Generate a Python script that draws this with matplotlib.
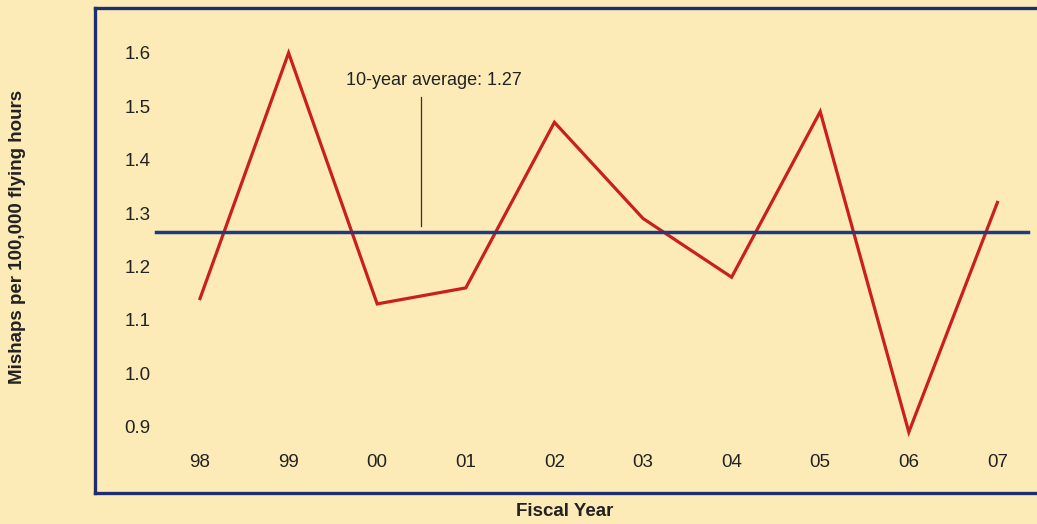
import matplotlib
matplotlib.use("Agg")
import matplotlib.pyplot as plt

years = ["98", "99", "00", "01", "02", "03", "04", "05", "06", "07"]
rates = [1.14, 1.60, 1.13, 1.16, 1.47, 1.29, 1.18, 1.49, 0.89, 1.32]
avg_rate = 1.265
avg_label = "10-year average: 1.27"
yticks = [0.9, 1.0, 1.1, 1.2, 1.3, 1.4, 1.5, 1.6]

BG = "#fcebb6"
RED = "#c9201f"
BLUE = "#1d3a82"
FRAME = "#1b2f70"

plt.rcParams.update({
    "font.family": ["Liberation Sans", "DejaVu Sans"],
})

fig = plt.figure(figsize=(10.37, 5.24), dpi=100, facecolor=BG)
# frame runs off the right edge of the picture
ax = fig.add_axes([95 / 1037, 1 - 493 / 524, 950 / 1037, 485 / 524])
ax.set_facecolor(BG)

x = list(range(len(years)))
ax.plot(x, rates, color=RED, linewidth=2.3, solid_joinstyle="miter")
ax.plot([-0.5, 9.34], [avg_rate, avg_rate], color=BLUE, linewidth=2.5)

# annotation for the average
ax.plot([2.49, 2.49], [avg_rate + 0.01, 1.517], color="#333333", linewidth=0.9)
ax.text(2.64, 1.532, avg_label, ha="center", va="bottom", fontsize=13, color="#222222")

ax.set_xlim(-1.185, 9.537)
ax.set_ylim(0.776, 1.684)

ax.set_xticks(x)
ax.set_xticklabels(years)
ax.set_yticks(yticks)
ax.set_yticklabels([f"{v:.1f}" for v in yticks])
ax.tick_params(axis="y", length=0, pad=-40, labelsize=13.5, labelcolor="#222222")
ax.tick_params(axis="x", length=0, pad=-28, labelsize=13.5, labelcolor="#222222")

for s in ax.spines.values():
    s.set_color(FRAME)
    s.set_linewidth(2.4)
ax.spines["right"].set_visible(False)

fig.text(565 / 1037, 1 - 512 / 524, "Fiscal Year", ha="center", va="center",
         fontsize=13.5, fontweight="bold", color="#222222")
fig.text(18 / 1037, 1 - 237 / 524, "Mishaps per 100,000 flying hours", ha="center",
         va="center", rotation=90, fontsize=13.5, fontweight="bold", color="#222222")

fig.savefig("out.png", dpi=100, facecolor=BG)
